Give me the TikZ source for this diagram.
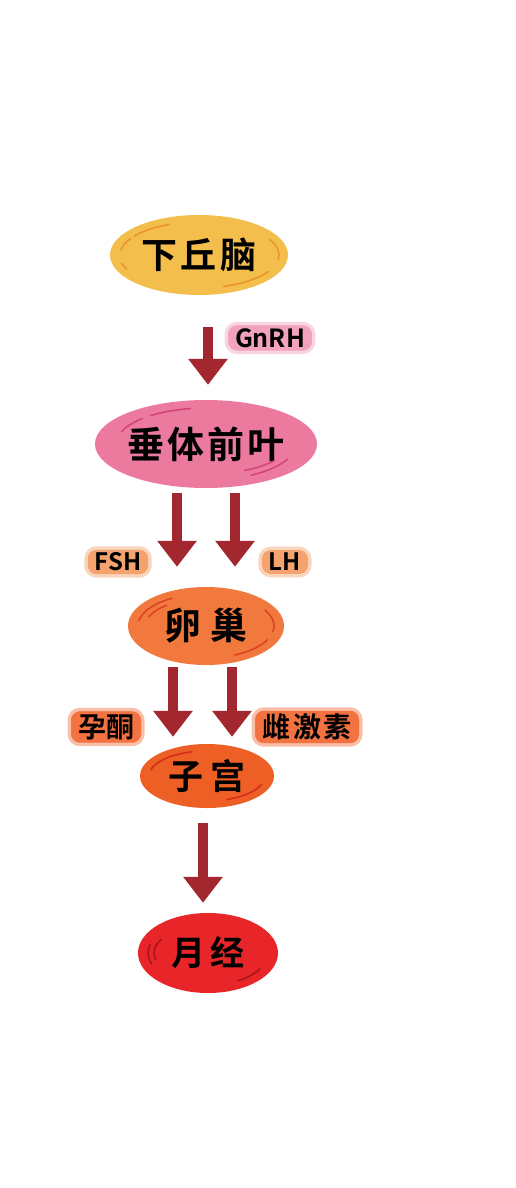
\documentclass[tikz,border=0pt]{standalone}
\usepackage{fontspec}
\setmainfont{Noto Sans CJK SC}[BoldFont={* Bold}]
\usetikzlibrary{arrows.meta,shapes.geometric,calc}
\definecolor{cHyp}{HTML}{F4BE4C}
\definecolor{dHyp}{HTML}{E8962A}
\definecolor{cPit}{HTML}{EC7A9E}
\definecolor{dPit}{HTML}{D4457A}
\definecolor{cOva}{HTML}{F2793E}
\definecolor{dOva}{HTML}{DD4425}
\definecolor{cUte}{HTML}{EE5F25}
\definecolor{dUte}{HTML}{D22E1A}
\definecolor{cMen}{HTML}{E8262A}
\definecolor{dMen}{HTML}{A8141C}
\definecolor{cArr}{HTML}{A3272E}
\definecolor{tPink}{HTML}{F2A2BA}
\definecolor{tOra}{HTML}{F4A36E}
\definecolor{tRed}{HTML}{F27242}
\begin{document}
\begin{tikzpicture}[x=1pt,y=1pt,
  organ/.style={ellipse, inner sep=0pt, text=black, font=\bfseries},
  fat/.style={draw=cArr, line width=10pt, -{Triangle[width=38pt,length=26pt]}},
  tag/.style={fill=#1, rounded corners=9pt, inner xsep=7pt, inner ysep=3pt, font=\bfseries,
    preaction={fill=#1, fill opacity=0.45, draw=#1, draw opacity=0.45, line width=7pt}},
  deco/.style={draw=#1, line width=1.6pt, line cap=round}]
\useasboundingbox (0,0) rectangle (516,-1188);
\fill[white] (0,0) rectangle (516,-1188);

% organs
\node[organ, fill=cHyp, minimum width=178pt, minimum height=80pt] (hyp) at (199,-255)
  {\fontsize{36}{40}\selectfont 下\hspace{4pt}丘\hspace{4pt}脑};
\node[organ, fill=cPit, minimum width=202pt, minimum height=88pt] (pit) at (206,-444)
  {\fontsize{37}{40}\selectfont 垂\hspace{3pt}体\hspace{3pt}前\hspace{3pt}叶};
\node[organ, fill=cOva, minimum width=156pt, minimum height=78pt] (ova) at (206,-626)
  {\fontsize{37}{40}\selectfont 卵\hspace{9pt}巢};
\node[organ, fill=cUte, minimum width=134pt, minimum height=64pt] (ute) at (207,-776)
  {\fontsize{35}{40}\selectfont 子\hspace{8pt}宫};
\node[organ, fill=cMen, minimum width=140pt, minimum height=80pt] (men) at (208,-953)
  {\fontsize{34}{40}\selectfont 月\hspace{6pt}经};

% decorations
\begin{scope}[shift={(hyp.center)}]
  \draw[deco=dHyp] (172:79 and 33) arc[start angle=172,end angle=150,x radius=79,y radius=33];
  \draw[deco=dHyp] (145:79 and 33) arc[start angle=145,end angle=112,x radius=79,y radius=33];
  \draw[deco=dHyp] (28:80 and 33) arc[start angle=28,end angle=-8,x radius=80,y radius=33];
  \draw[deco=dHyp] (-30:80 and 33) arc[start angle=-30,end angle=-72,x radius=80,y radius=33];
  \draw[deco=dHyp] (195:80 and 33) arc[start angle=195,end angle=205,x radius=80,y radius=33];
\end{scope}
\begin{scope}[shift={(pit.center)}]
  \draw[deco=dPit] (160:90 and 36) arc[start angle=160,end angle=135,x radius=90,y radius=36];
  \draw[deco=dPit] (128:90 and 36) arc[start angle=128,end angle=100,x radius=90,y radius=36];
  \draw[deco=dPit] (-25:90 and 36) arc[start angle=-25,end angle=-60,x radius=90,y radius=36];
  \draw[deco=dPit] (-35:82 and 30) arc[start angle=-35,end angle=-62,x radius=82,y radius=30];
\end{scope}
\begin{scope}[shift={(ova.center)}]
  \draw[deco=dOva] (170:68 and 32) arc[start angle=170,end angle=120,x radius=68,y radius=32];
  \draw[deco=dOva] (160:61 and 27) arc[start angle=160,end angle=130,x radius=61,y radius=27];
  \draw[deco=dOva] (30:68 and 32) arc[start angle=30,end angle=-10,x radius=68,y radius=32];
  \draw[deco=dOva] (-25:68 and 32) arc[start angle=-25,end angle=-65,x radius=68,y radius=32];
\end{scope}
\begin{scope}[shift={(ute.center)}]
  \draw[deco=dUte] (165:58 and 25) arc[start angle=165,end angle=105,x radius=58,y radius=25];
  \draw[deco=dUte] (-20:58 and 25) arc[start angle=-20,end angle=-70,x radius=58,y radius=25];
\end{scope}
\begin{scope}[shift={(men.center)}]
  \draw[deco=dMen] (165:60 and 32) arc[start angle=165,end angle=200,x radius=60,y radius=32];
  \draw[deco=dMen] (150:54 and 27) arc[start angle=150,end angle=195,x radius=54,y radius=27];
  \draw[deco=dMen] (-30:60 and 32) arc[start angle=-30,end angle=-60,x radius=60,y radius=32];
\end{scope}

% hormone tags
\node[tag=tPink] (gnrh) at (270,-338) {\fontsize{25}{26}\selectfont GnRH};
\node[tag=tOra] (fsh) at (118,-562) {\fontsize{24}{26}\selectfont FSH};
\node[tag=tOra] (lh) at (285,-562) {\fontsize{24}{26}\selectfont LH};
\node[tag=tRed] (prog) at (106,-727) {\fontsize{28}{30}\selectfont 孕酮};
\node[tag=tRed] (estr) at (307,-727) {\fontsize{28}{30}\selectfont 雌\hspace{3pt}激\hspace{3pt}素};

% arrows
\coordinate (s1) at ($(hyp.south)+(9,-32)$);
\coordinate (s2) at ($(pit.south)+(-29,-5)$);
\coordinate (s3) at ($(pit.south)+(29,-5)$);
\coordinate (s4) at ($(ova.south)+(-33,-2)$);
\coordinate (s5) at ($(ova.south)+(26,-2)$);
\coordinate (s6) at ($(ute.south)+(-4,-15)$);
\draw[fat] (s1) -- ($(s1 |- pit.north)+(0,15)$);
\draw[fat] (s2) -- ($(s2 |- ova.north)+(0,20)$);
\draw[fat] (s3) -- ($(s3 |- ova.north)+(0,20)$);
\draw[fat] (s4) -- ($(s4 |- ute.north)+(0,7)$);
\draw[fat] (s5) -- ($(s5 |- ute.north)+(0,7)$);
\draw[fat] (s6) -- ($(s6 |- men.north)+(0,10)$);
\end{tikzpicture}
\end{document}
